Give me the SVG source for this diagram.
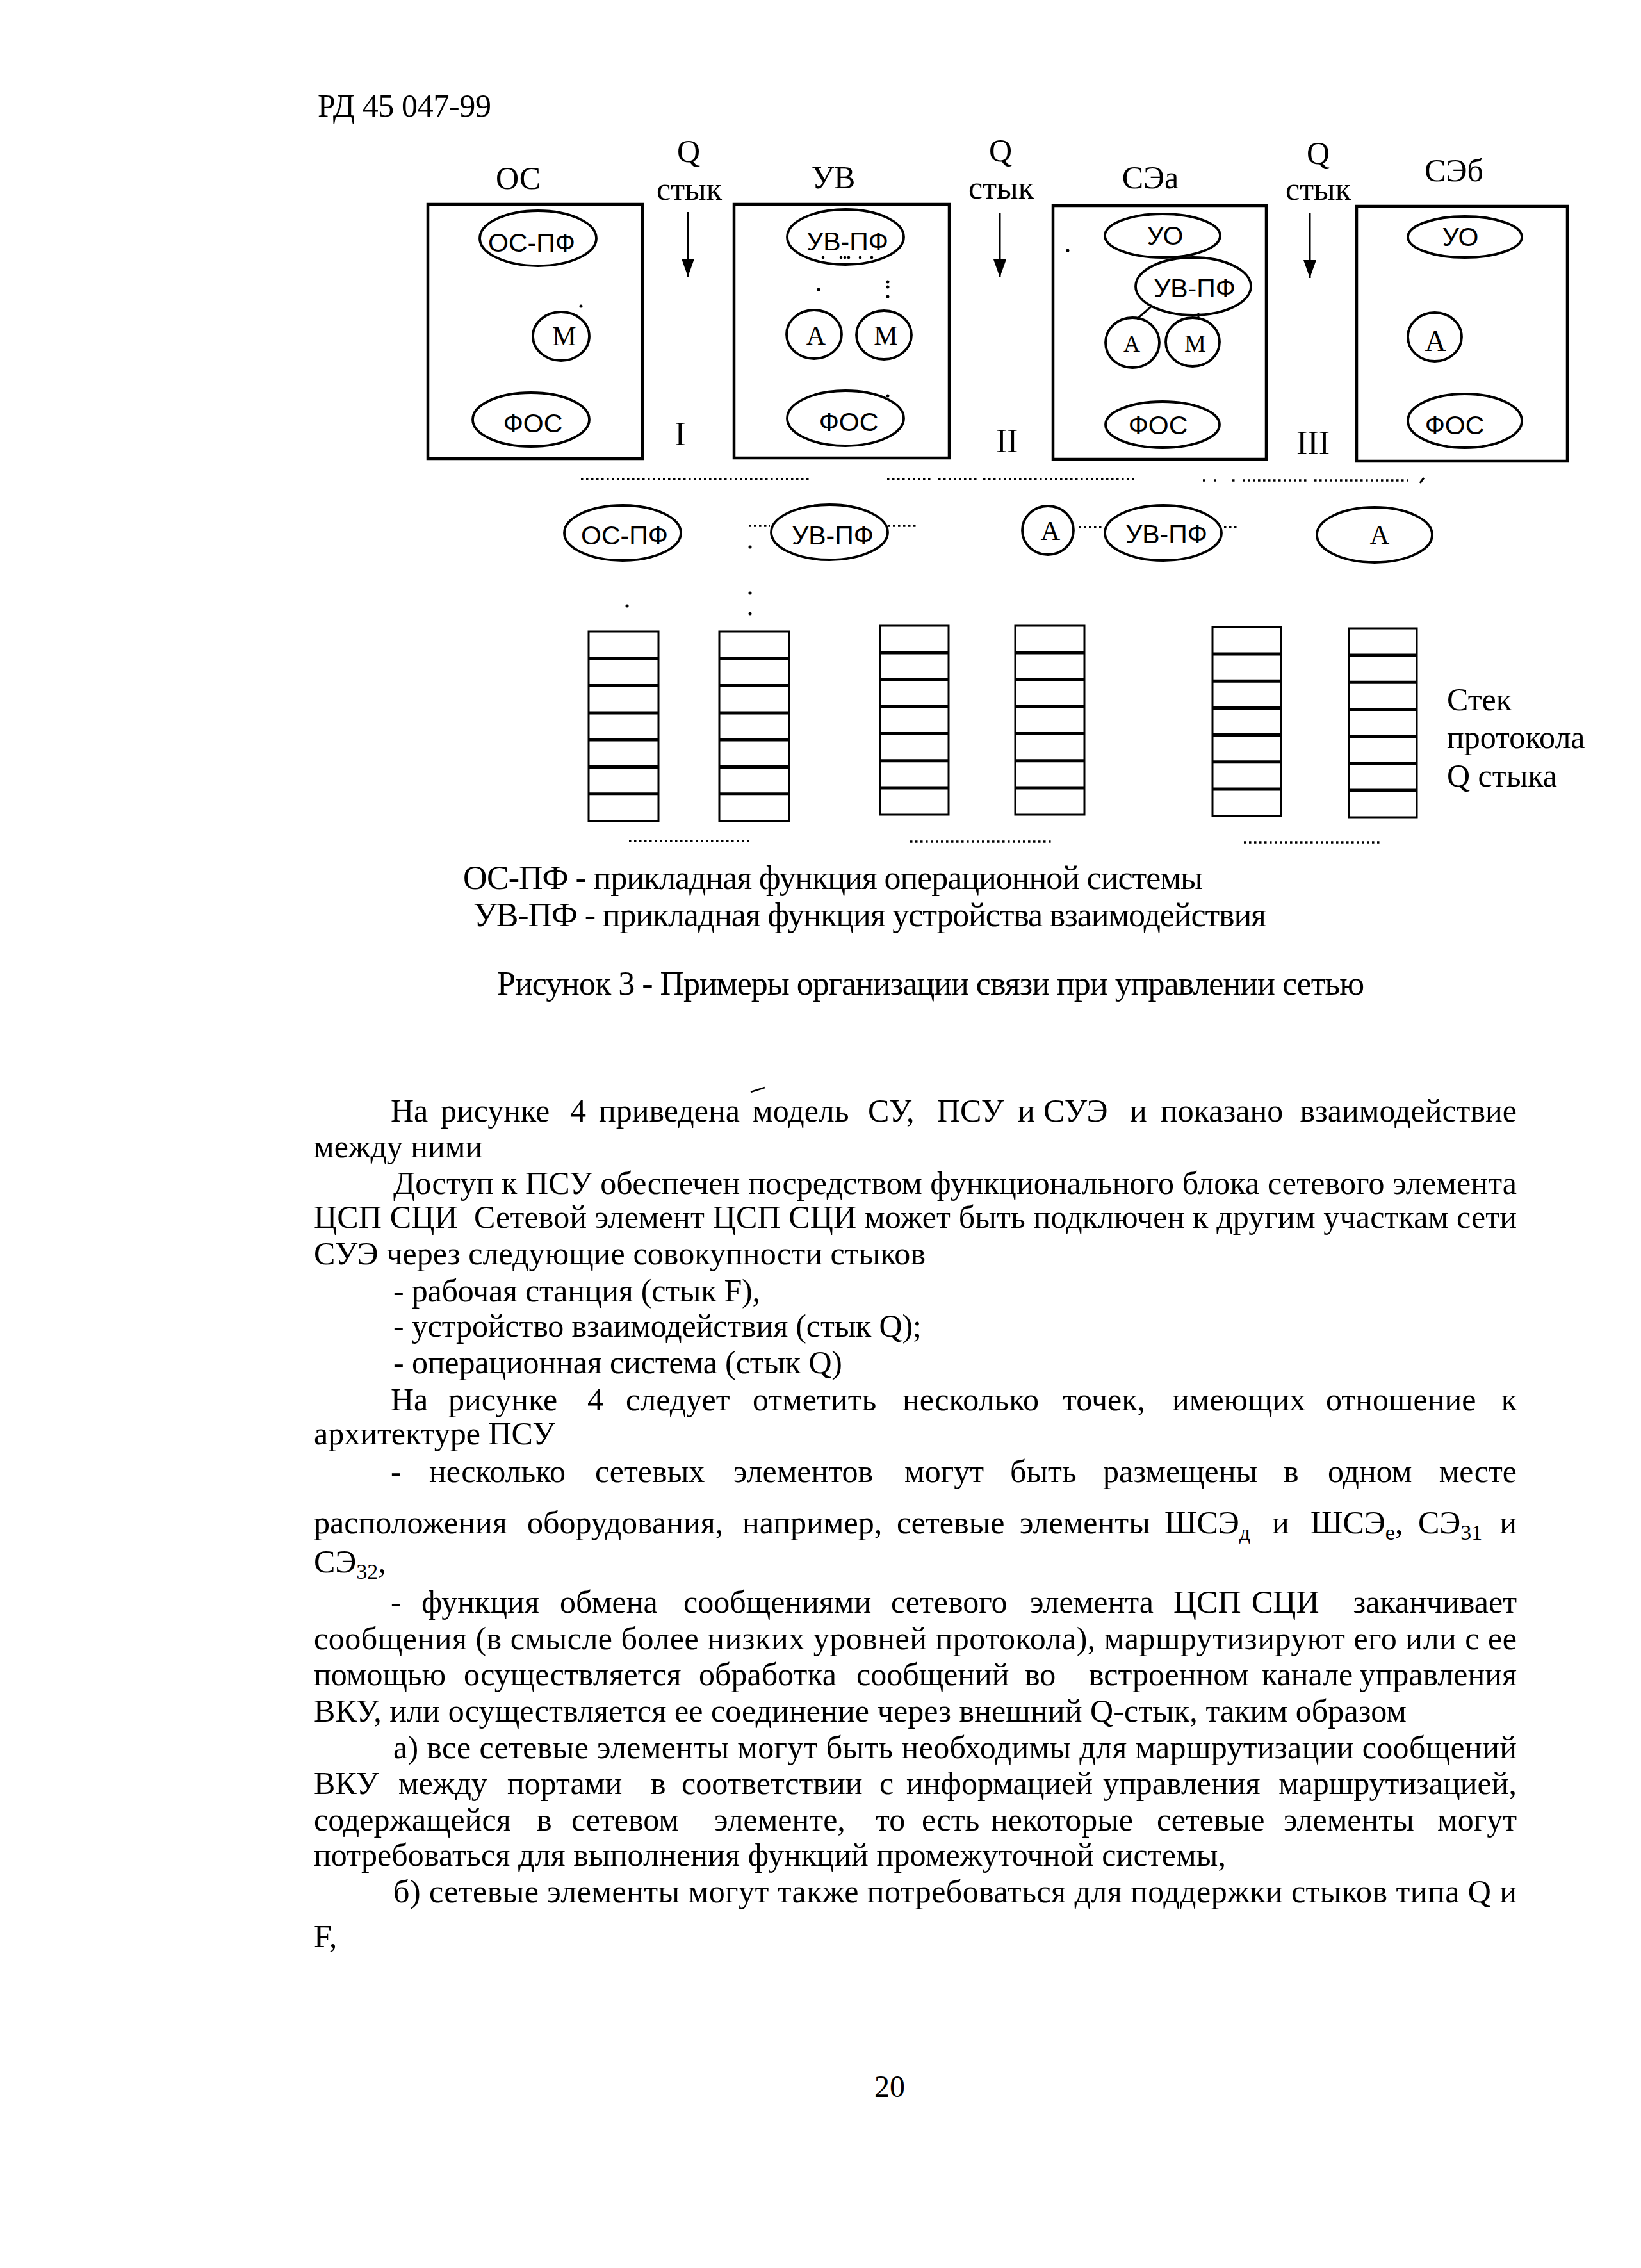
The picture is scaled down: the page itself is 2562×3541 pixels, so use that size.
<svg xmlns="http://www.w3.org/2000/svg" width="2562" height="3541" viewBox="0 0 2562 3541">
<style>
.bg{fill:#fff}
.box{fill:none;stroke:#000;stroke-width:4.5}
.ell{fill:none;stroke:#000;stroke-width:3.8}
.stk{fill:none;stroke:#000;stroke-width:3}
.dv{stroke:#000;stroke-width:5}
.dl{stroke:#000;stroke-width:3.5;stroke-dasharray:3.5 4.5;fill:none}
.ln{stroke:#000;stroke-width:3;fill:none}
.t{font-family:"Liberation Serif","Times New Roman",serif;fill:#000}
.s{font-family:"Liberation Sans",Arial,sans-serif;fill:#000}
.b{font-size:50px}
.lb{font-size:50px;text-anchor:middle}
.in{font-size:41px;text-anchor:middle}
.ls{font-size:42px;text-anchor:middle}
.e{text-anchor:end}
.dot{fill:#000}
</style>
<defs>
<marker id="ah" viewBox="0 0 28 20" refX="28" refY="10" markerWidth="28" markerHeight="20" markerUnits="userSpaceOnUse" orient="auto">
<path d="M0,0 L28,10 L0,20 z" fill="#000"/>
</marker>
</defs>
<rect class="bg" x="0" y="0" width="2562" height="3541"/>

<text class="t" x="496" y="182" font-size="50" textLength="271">РД 45 047-99</text>

<g id="node-os">
<text class="t lb" x="809" y="295">ОС</text>
<rect class="box" x="668" y="319" width="335" height="397"/>
<ellipse class="ell" cx="840" cy="372" rx="91" ry="43"/>
<text class="s in" x="830" y="393">ОС-ПФ</text>
<ellipse class="ell" cx="876" cy="525" rx="44" ry="38"/>
<text class="t ls" x="881" y="539">М</text>
<ellipse class="ell" cx="829" cy="655" rx="91" ry="42"/>
<text class="s in" x="832" y="675">ФОС</text>
<circle class="dot" cx="907" cy="478" r="2.5"/>
</g>

<g id="node-uv">
<text class="t lb" x="1301" y="294">УВ</text>
<rect class="box" x="1146" y="319" width="336" height="396"/>
<ellipse class="ell" cx="1320" cy="370" rx="91" ry="43"/>
<text class="s in" x="1323" y="391">УВ-ПФ</text>
<ellipse class="ell" cx="1271" cy="522" rx="43" ry="38"/>
<text class="t ls" x="1274" y="538">А</text>
<ellipse class="ell" cx="1380" cy="523" rx="43" ry="38"/>
<text class="t ls" x="1383" y="538">М</text>
<ellipse class="ell" cx="1320" cy="653" rx="91" ry="43"/>
<text class="s in" x="1325" y="673">ФОС</text>
<circle class="dot" cx="1285" cy="402" r="2.3"/>
<circle class="dot" cx="1313" cy="402" r="2.3"/>
<circle class="dot" cx="1319" cy="402" r="2.3"/>
<circle class="dot" cx="1325" cy="402" r="2.3"/>
<circle class="dot" cx="1343" cy="402" r="2.3"/>
<circle class="dot" cx="1361" cy="402" r="2.3"/>
<circle class="dot" cx="1278" cy="452" r="2.5"/>
<circle class="dot" cx="1386" cy="440" r="2.5"/>
<circle class="dot" cx="1386" cy="448" r="2.5"/>
<circle class="dot" cx="1386" cy="463" r="2.5"/>
<circle class="dot" cx="1386" cy="618" r="2.5"/>
</g>

<g id="node-sea">
<text class="t lb" x="1796" y="294">СЭа</text>
<rect class="box" x="1644" y="321" width="333" height="396"/>
<ellipse class="ell" cx="1815" cy="368" rx="90" ry="34"/>
<text class="s in" x="1819" y="382">УО</text>
<ellipse class="ell" cx="1863" cy="447" rx="90" ry="45"/>
<text class="s in" x="1865" y="464">УВ-ПФ</text>
<ellipse class="ell" cx="1768" cy="535" rx="42" ry="39"/>
<text class="t" x="1767" y="549" font-size="36" text-anchor="middle">А</text>
<ellipse class="ell" cx="1862" cy="534" rx="42" ry="38"/>
<text class="t" x="1866" y="549" font-size="38" text-anchor="middle">М</text>
<ellipse class="ell" cx="1815" cy="663" rx="89" ry="36"/>
<text class="s in" x="1808" y="678">ФОС</text>
<circle class="dot" cx="1667" cy="391" r="2.5"/>
</g>

<g id="node-seb">
<text class="t lb" x="2270" y="283">СЭб</text>
<rect class="box" x="2118" y="322" width="329" height="398"/>
<ellipse class="ell" cx="2287" cy="370" rx="89" ry="32"/>
<text class="s in" x="2280" y="384">УО</text>
<ellipse class="ell" cx="2240" cy="526" rx="42" ry="38"/>
<text class="t" x="2241" y="548" font-size="46" text-anchor="middle">А</text>
<ellipse class="ell" cx="2287" cy="657" rx="89" ry="42"/>
<text class="s in" x="2271" y="678">ФОС</text>
</g>

<g id="interfaces">
<text class="t lb" x="1075" y="253">Q</text>
<text class="t lb" x="1076" y="312">стык</text>
<text class="t lb" x="1562" y="252">Q</text>
<text class="t lb" x="1563" y="310">стык</text>
<text class="t lb" x="2058" y="256">Q</text>
<text class="t lb" x="2058" y="312">стык</text>
<text class="t" x="1062" y="695" font-size="52" text-anchor="middle">I</text>
<text class="t" x="1572" y="706" font-size="52" text-anchor="middle">II</text>
<text class="t" x="2050" y="709" font-size="52" text-anchor="middle">III</text>
</g>

<g id="connectors">
<line class="ln" x1="1074" y1="331" x2="1074" y2="432" marker-end="url(#ah)"/>
<line class="ln" x1="1561" y1="333" x2="1561" y2="433" marker-end="url(#ah)"/>
<line class="ln" x1="2045" y1="333" x2="2045" y2="434" marker-end="url(#ah)"/>
<line class="ln" x1="1798" y1="478" x2="1775" y2="498"/>
<line class="ln" x1="1871" y1="489" x2="1871" y2="497"/>
<line class="dl" x1="907" y1="748" x2="1265" y2="748"/>
<line class="dl" x1="1385" y1="748" x2="1455" y2="748"/>
<line class="dl" x1="1465" y1="748" x2="1525" y2="748"/>
<line class="dl" x1="1535" y1="748" x2="1771" y2="748"/>
<line class="dl" x1="1878" y1="750" x2="1886" y2="750"/>
<line class="dl" x1="1895" y1="750" x2="1899" y2="750"/>
<line class="dl" x1="1924" y1="750" x2="1928" y2="750"/>
<line class="dl" x1="1940" y1="750" x2="2042" y2="750"/>
<line class="dl" x1="2052" y1="750" x2="2198" y2="750"/>
<path class="ln" d="M2217,754 L2223,746"/>
<line class="dl" x1="1169" y1="821" x2="1202" y2="821"/>
<line class="dl" x1="1386" y1="821" x2="1430" y2="821"/>
<line class="dl" x1="1684" y1="823" x2="1724" y2="823"/>
<line class="dl" x1="1911" y1="823" x2="1933" y2="823"/>
<circle class="dot" cx="1171" cy="854" r="2.5"/>
<circle class="dot" cx="1171" cy="926" r="2.5"/>
<circle class="dot" cx="1171" cy="958" r="2.5"/>
<circle class="dot" cx="979" cy="946" r="2.5"/>
<line class="dl" x1="982" y1="1313" x2="1170" y2="1313"/>
<line class="dl" x1="1421" y1="1314" x2="1642" y2="1314"/>
<line class="dl" x1="1942" y1="1315" x2="2154" y2="1315"/>
</g>

<g id="row2-os-pf">
<ellipse class="ell" cx="972" cy="832" rx="91" ry="43"/>
<text class="s in" x="975" y="850">ОС-ПФ</text>
</g>
<g id="row2-uv-pf">
<ellipse class="ell" cx="1295" cy="831" rx="91" ry="43"/>
<text class="s in" x="1300" y="850">УВ-ПФ</text>
</g>
<g id="row2-a1">
<ellipse class="ell" cx="1636" cy="828" rx="40" ry="38"/>
<text class="t ls" x="1640" y="843">А</text>
</g>
<g id="row2-uv-pf2">
<ellipse class="ell" cx="1816" cy="832" rx="91" ry="43"/>
<text class="s in" x="1821" y="848">УВ-ПФ</text>
</g>
<g id="row2-a2">
<ellipse class="ell" cx="2146" cy="835" rx="90" ry="43"/>
<text class="t ls" x="2154" y="849">А</text>
</g>

<g id="stack-1">
<rect class="stk" x="919" y="986" width="109" height="296"/>
<path class="dv" d="M919,1028.3H1028M919,1070.6H1028M919,1112.9H1028M919,1155.1H1028M919,1197.4H1028M919,1239.7H1028"/>
</g>
<g id="stack-2">
<rect class="stk" x="1123" y="986" width="109" height="296"/>
<path class="dv" d="M1123,1028.3H1232M1123,1070.6H1232M1123,1112.9H1232M1123,1155.1H1232M1123,1197.4H1232M1123,1239.7H1232"/>
</g>
<g id="stack-3">
<rect class="stk" x="1374" y="977" width="107" height="295"/>
<path class="dv" d="M1374,1019.1H1481M1374,1061.3H1481M1374,1103.4H1481M1374,1145.6H1481M1374,1187.7H1481M1374,1229.9H1481"/>
</g>
<g id="stack-4">
<rect class="stk" x="1585" y="977" width="108" height="295"/>
<path class="dv" d="M1585,1019.1H1693M1585,1061.3H1693M1585,1103.4H1693M1585,1145.6H1693M1585,1187.7H1693M1585,1229.9H1693"/>
</g>
<g id="stack-5">
<rect class="stk" x="1893" y="979" width="107" height="295"/>
<path class="dv" d="M1893,1021.1H2000M1893,1063.3H2000M1893,1105.4H2000M1893,1147.6H2000M1893,1189.7H2000M1893,1231.9H2000"/>
</g>
<g id="stack-6">
<rect class="stk" x="2106" y="981" width="106" height="295"/>
<path class="dv" d="M2106,1023.1H2212M2106,1065.3H2212M2106,1107.4H2212M2106,1149.6H2212M2106,1191.7H2212M2106,1233.9H2212"/>
</g>

<g id="stack-label" class="t b">
<text x="2259" y="1109">Стек</text>
<text x="2259" y="1168">протокола</text>
<text x="2259" y="1228">Q стыка</text>
</g>

<g id="legend" class="t">
<text x="723" y="1388" font-size="52" textLength="1155">ОС-ПФ - прикладная функция операционной системы</text>
<text x="739" y="1446" font-size="52" textLength="1238">УВ-ПФ - прикладная функция устройства взаимодействия</text>
<text x="776" y="1553" font-size="52" textLength="1354">Рисунок 3 - Примеры организации связи при управлении сетью</text>
</g>

<g id="body" class="t b">
<path d="M1172,1705 L1194,1698" stroke="#000" stroke-width="2.5" fill="none"/>
<text y="1751"><tspan x="610">На</tspan><tspan x="688">рисунке</tspan><tspan x="890">4</tspan><tspan x="935">приведена</tspan><tspan x="1175">модель</tspan><tspan x="1355">СУ,</tspan><tspan x="1463">ПСУ</tspan><tspan x="1589">и</tspan><tspan x="1629">СУЭ</tspan><tspan x="1764">и</tspan><tspan x="1812">показано</tspan></text>
<text class="e" x="2368" y="1751">взаимодействие</text>
<text x="490" y="1807">между ними</text>
<text x="614" y="1864" textLength="1754">Доступ к ПСУ обеспечен посредством функционального блока сетевого элемента</text>
<text x="490" y="1917" textLength="1878" xml:space="preserve">ЦСП СЦИ  Сетевой элемент ЦСП СЦИ может быть подключен к другим участкам сети</text>
<text x="490" y="1974" textLength="955">СУЭ через следующие совокупности стыков</text>
<text x="614" y="2032" textLength="573">- рабочая станция (стык F),</text>
<text x="614" y="2087" textLength="825">- устройство взаимодействия (стык Q);</text>
<text x="614" y="2144" textLength="701">- операционная система (стык Q)</text>
<text y="2202"><tspan x="610">На</tspan><tspan x="700">рисунке</tspan><tspan x="917">4</tspan><tspan x="977">следует</tspan><tspan x="1175">отметить</tspan><tspan x="1409">несколько</tspan><tspan x="1659">точек,</tspan><tspan x="1830">имеющих</tspan><tspan x="2070">отношение</tspan></text>
<text class="e" x="2368" y="2202">к</text>
<text x="490" y="2255">архитектуре ПСУ</text>
<text y="2314"><tspan x="610">-</tspan><tspan x="670">несколько</tspan><tspan x="929">сетевых</tspan><tspan x="1145">элементов</tspan><tspan x="1412">могут</tspan><tspan x="1577">быть</tspan><tspan x="1722">размещены</tspan><tspan x="2004">в</tspan><tspan x="2073">одном</tspan></text>
<text class="e" x="2368" y="2314">месте</text>
<text y="2394"><tspan x="490">расположения</tspan><tspan x="823">оборудования,</tspan><tspan x="1159">например,</tspan><tspan x="1400">сетевые</tspan><tspan x="1592">элементы</tspan><tspan x="1818">ШСЭ</tspan><tspan dy="10" font-size="34">д</tspan><tspan x="1986" y="2394">и</tspan><tspan x="2046">ШСЭ</tspan><tspan dy="10" font-size="34">е</tspan><tspan y="2394">,</tspan><tspan x="2214">СЭ</tspan><tspan dy="10" font-size="34">31</tspan></text>
<text class="e" x="2368" y="2394">и</text>
<text x="490" y="2455">СЭ<tspan dy="10" font-size="34">32</tspan><tspan dy="-10">,</tspan></text>
<text y="2518"><tspan x="610">-</tspan><tspan x="658">функция</tspan><tspan x="874">обмена</tspan><tspan x="1067">сообщениями</tspan><tspan x="1391">сетевого</tspan><tspan x="1608">элемента</tspan><tspan x="1832">ЦСП</tspan><tspan x="1954">СЦИ</tspan></text>
<text class="e" x="2368" y="2518">заканчивает</text>
<text x="490" y="2575" textLength="1878">сообщения (в смысле более низких уровней протокола), маршрутизируют его или с ее</text>
<text y="2631"><tspan x="490">помощью</tspan><tspan x="724">осуществляется</tspan><tspan x="1091">обработка</tspan><tspan x="1337">сообщений</tspan><tspan x="1600">во</tspan><tspan x="1700">встроенном</tspan><tspan x="1970">канале</tspan></text>
<text class="e" x="2368" y="2631">управления</text>
<text x="490" y="2688" textLength="1706">ВКУ, или осуществляется ее соединение через внешний Q-стык, таким образом</text>
<text x="614" y="2745" textLength="1754">а) все сетевые элементы могут быть необходимы для маршрутизации сообщений</text>
<text y="2801"><tspan x="490">ВКУ</tspan><tspan x="622">между</tspan><tspan x="792">портами</tspan><tspan x="1016">в</tspan><tspan x="1064">соответствии</tspan><tspan x="1373">с</tspan><tspan x="1415">информацией</tspan><tspan x="1722">управления</tspan></text>
<text class="e" x="2368" y="2801">маршрутизацией,</text>
<text y="2858"><tspan x="490">содержащейся</tspan><tspan x="838">в</tspan><tspan x="892">сетевом</tspan><tspan x="1115">элементе,</tspan><tspan x="1367">то</tspan><tspan x="1439">есть</tspan><tspan x="1547">некоторые</tspan><tspan x="1806">сетевые</tspan><tspan x="2004">элементы</tspan></text>
<text class="e" x="2368" y="2858">могут</text>
<text x="490" y="2913" textLength="1424">потребоваться для выполнения функций промежуточной системы,</text>
<text x="614" y="2970" textLength="1754">б) сетевые элементы могут также потребоваться для поддержки стыков типа Q и</text>
<text x="490" y="3040">F,</text>
</g>

<text class="t" x="1389" y="3274" font-size="48" text-anchor="middle">20</text>
</svg>
